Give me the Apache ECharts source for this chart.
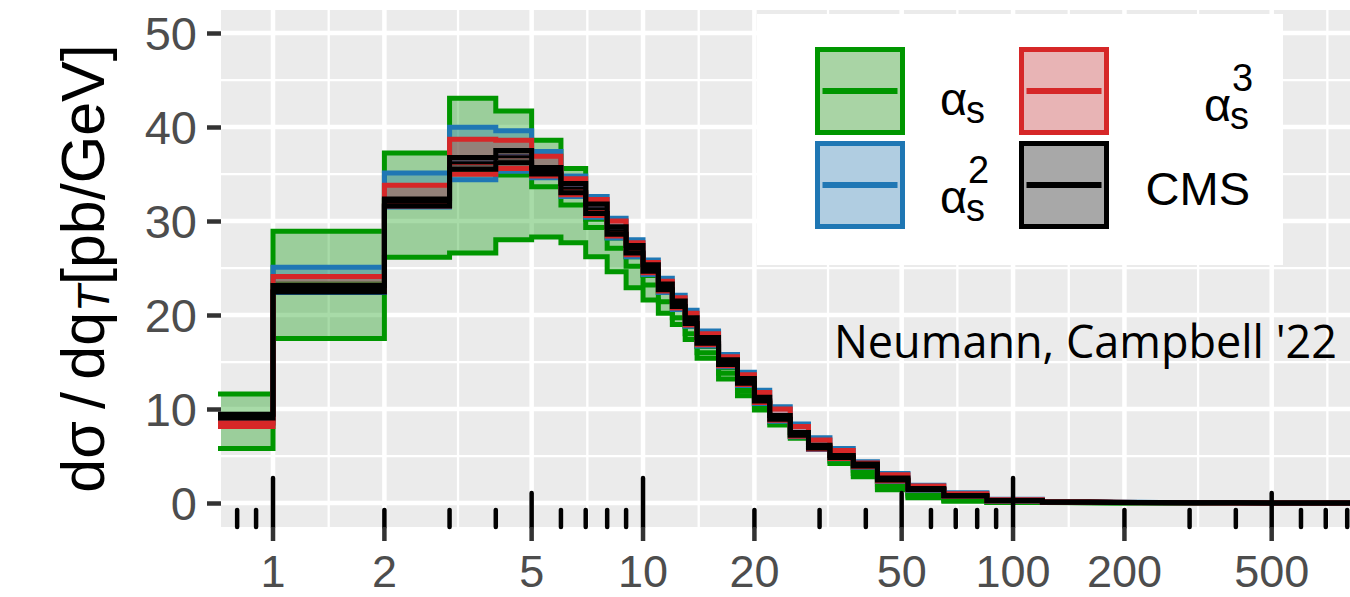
<!DOCTYPE html>
<html><head><meta charset="utf-8">
<script src="https://cdn.jsdelivr.net/npm/echarts@6/dist/echarts.min.js"></script>
<style>html,body{margin:0;padding:0;background:#fff}#c{width:1350px;height:597px}</style>
</head><body><div id="c"></div>
<script>
// ---------------- data ----------------
const binEdges = [0.5,1,2,3,4,5,6,7,8,9,10,11,12,13,14,16,18,20,22,25,28,32,37,43,52,65,85,120,160,190,220,250,300,400,500,1000];

const greenUp  = [11.6,28.9,37.25,43.05,41.7,38.6,35.6,30.2,28.2,26.2,24.2,22.4,20.6,18.8,16.65,14.4,12.4,10.6,8.9,7.3,6.0,4.7,3.5,2.0,1.0,0.45,0.12,0.05,0.03,0.025,0.02,0.015,0.01,0.008,0.005];
const greenMid = [8.9,23.3,32.2,35.1,34.9,33.65,31.7,29.3,27.1,25.2,23.2,21.4,19.7,18.0,16.0,13.8,11.9,10.2,8.6,7.1,5.85,4.45,3.15,1.7,0.75,0.3,0.08,0.03,0.02,0.015,0.012,0.01,0.008,0.005,0.003];
const greenLo  = [5.8,17.5,26.15,26.6,28.0,28.3,27.7,26.2,24.6,22.9,21.6,20.2,19.0,17.4,15.4,13.2,11.4,9.9,8.3,6.9,5.7,4.2,2.8,1.4,0.55,0.2,0.05,0.02,0.015,0.01,0.008,0.006,0.005,0.003,0.002];

const blueUp = [9.0,25.07,35.1,39.97,39.6,37.4,34.8,32.6,30.3,28.0,25.85,23.9,22.1,20.5,18.3,15.8,13.9,12.0,10.25,8.4,6.95,5.8,4.4,3.15,1.9,1.1,0.4,0.15,0.09,0.07,0.05,0.04,0.03,0.015,0.008];
const blueMid = [8.8,22.9,32.1,36.3,37.0,35.45,33.6,31.4,29.1,27.1,25.1,23.1,21.3,19.5,17.4,15.1,13.1,11.15,9.2,7.45,6.05,5.0,4.1,2.6,1.55,0.8,0.26,0.1,0.07,0.05,0.04,0.03,0.02,0.01,0.005];
const blueLo = [8.5,22.4,31.5,34.4,35.3,34.6,32.6,30.4,28.2,26.2,24.3,22.4,20.6,18.8,16.7,14.5,12.5,10.6,8.7,7.05,5.7,4.7,3.8,2.3,1.35,0.7,0.2,0.08,0.06,0.04,0.03,0.025,0.015,0.007,0.004];

const redUp = [8.55,24.1,33.8,38.7,38.6,36.9,34.5,32.3,30.0,27.7,25.6,23.6,21.85,20.2,18.0,15.55,13.65,11.75,10.0,8.15,6.7,5.6,4.25,3.0,1.8,1.0,0.35,0.13,0.08,0.06,0.045,0.035,0.025,0.013,0.007];
const redMid = [8.35,22.7,31.9,36.1,36.8,35.25,33.4,31.2,28.9,26.9,24.9,22.9,21.1,19.3,17.2,14.9,12.9,10.95,9.0,7.25,5.95,4.9,4.0,2.5,1.45,0.75,0.24,0.09,0.065,0.045,0.035,0.028,0.018,0.009,0.0045];
const redLo = [8.15,22.5,31.6,34.97,35.6,34.8,32.8,30.6,28.4,26.4,24.5,22.55,20.75,18.95,16.85,14.6,12.6,10.7,8.8,7.1,5.75,4.75,3.85,2.35,1.4,0.72,0.22,0.085,0.062,0.042,0.032,0.026,0.016,0.0075,0.004];

const cmsUp  = [9.45,23.15,32.35,36.75,37.5,35.7,34.0,31.8,29.4,27.4,25.35,23.3,21.5,19.7,17.6,15.25,13.25,11.25,9.3,7.5,6.15,5.05,4.15,2.65,1.55,0.8,0.27,0.11,0.075,0.055,0.045,0.033,0.022,0.012,0.006];
const cmsMid = [9.25,22.8,32.0,36.2,36.85,35.35,33.5,31.3,29.0,27.0,25.0,23.0,21.2,19.4,17.3,15.0,13.0,11.05,9.1,7.35,6.0,4.95,4.05,2.55,1.5,0.77,0.25,0.1,0.07,0.05,0.04,0.03,0.02,0.01,0.005];
const cmsLo  = [9.05,22.45,31.6,35.5,36.2,35.0,33.0,30.8,28.6,26.6,24.65,22.7,20.9,19.1,17.0,14.75,12.75,10.85,8.9,7.2,5.85,4.85,3.95,2.45,1.45,0.74,0.23,0.09,0.065,0.045,0.035,0.027,0.018,0.008,0.004];

const xTickLabels = [1,2,5,10,20,50,100,200,500];
const yTickLabels = [0,10,20,30,40,50];
const yMinorBreaks = [5,15,25,35,45];

// ---------------- layout / style ----------------
const X_MIN = 0.7235, X_MAX = 814;
const Y_MIN = -2.55, Y_MAX = 52.45;
const FONT = 'Liberation Sans';
const C = {green:'#009600', blue:'#1F77B4', red:'#D62728', black:'#000000'};
const FILL = {green:'rgba(0,150,0,0.34)', blue:'rgba(31,119,180,0.34)', red:'rgba(214,39,40,0.34)', black:'rgba(0,0,0,0.34)'};

// minor x grid: geometric midpoints of neighbouring breaks
const extBreaks = [0.5].concat(xTickLabels, [1000]);
const xMinorBreaks = [];
for (let i = 0; i < extBreaks.length - 1; i++) xMinorBreaks.push(Math.sqrt(extBreaks[i] * extBreaks[i+1]));

// log ticks (annotation_logticks)
const logTicks = [];
[0.1,1,10,100].forEach(d => { for (let k = 1; k <= 9; k++) { const v = +(k*d).toPrecision(6); if (v >= X_MIN && v <= X_MAX) logTicks.push([v, k === 1 ? 2 : (k === 5 ? 1 : 0)]); } });

function stepData(vals){ return binEdges.map((e,i)=>[e, vals[Math.min(i, vals.length-1)]]); }

function bandSeries(up, lo, fill, z){
  return {type:'custom', z, silent:true, clip:true, data:[[binEdges[1], lo[1]]], encode:{x:0,y:1},
    renderItem:(params, api)=>{
      const pts=[];
      for(let i=0;i<up.length;i++){ pts.push(api.coord([binEdges[i], up[i]])); pts.push(api.coord([binEdges[i+1], up[i]])); }
      for(let i=lo.length-1;i>=0;i--){ pts.push(api.coord([binEdges[i+1], lo[i]])); pts.push(api.coord([binEdges[i], lo[i]])); }
      return {type:'polygon', shape:{points:pts}, style:{fill}};
    }};
}
function lineSeries(vals, color, width, z){
  return {type:'line', step:'end', data:stepData(vals), showSymbol:false, symbol:'none', silent:true, clip:true, z,
    lineStyle:{color, width, cap:'butt', join:'miter'}, animation:false};
}

const series = [];
// vertical grid
series.push({type:'custom', z:1, silent:true, clip:true, encode:{x:0,y:1},
  data: xTickLabels.map(v=>[v,1]).concat(xMinorBreaks.map(v=>[v,0])),
  renderItem:(p, api)=>{ const x=api.value(0); const a=api.coord([x,Y_MIN]), b=api.coord([x,Y_MAX]);
    return {type:'line', shape:{x1:a[0],y1:a[1],x2:b[0],y2:b[1]}, style:{stroke:'#fff', lineWidth: api.value(1)?4.5:2.3}}; }});
// horizontal grid
series.push({type:'custom', z:1, silent:true, clip:true, encode:{x:0,y:1},
  data: yTickLabels.map(v=>[X_MIN,v,1]).concat(yMinorBreaks.map(v=>[X_MIN,v,0])),
  renderItem:(p, api)=>{ const y=api.value(1); const a=api.coord([X_MIN,y]), b=api.coord([X_MAX,y]);
    return {type:'line', shape:{x1:a[0],y1:a[1],x2:b[0],y2:b[1]}, style:{stroke:'#fff', lineWidth: api.value(2)?4.5:2.3}}; }});

let z = 2;
[[greenUp,greenMid,greenLo,'green',5],[blueUp,blueMid,blueLo,'blue',2.5],[redUp,redMid,redLo,'red',2.5],[cmsUp,cmsMid,cmsLo,'black',2.5]].forEach(([u,m,l,k,mw])=>{
  series.push(bandSeries(u,l,FILL[k],z++));
  series.push(lineSeries(m,C[k],mw,z++));
  series.push(lineSeries(u,C[k],5,z++));
  series.push(lineSeries(l,C[k],5,z++));
});

// log ticks inside panel
series.push({type:'custom', z:40, silent:true, clip:false, encode:{x:0,y:1},
  data: logTicks,
  renderItem:(p, api)=>{ const x=api.value(0); const a=api.coord([x,Y_MIN]); const len=[17,34,49][api.value(1)];
    return {type:'line', shape:{x1:a[0],y1:a[1],x2:a[0],y2:a[1]-len}, style:{stroke:'#000', lineWidth:4.5, lineCap:'round'}}; }});
// x axis ticks (below panel)
series.push({type:'custom', z:40, silent:true, clip:false, encode:{x:0,y:1},
  data: xTickLabels.map(v=>[v,Y_MIN]),
  renderItem:(p, api)=>{ const x=api.value(0); const a=api.coord([x,Y_MIN]);
    return {type:'line', shape:{x1:a[0],y1:a[1],x2:a[0],y2:a[1]+14}, style:{stroke:'#333333', lineWidth:4.5}}; }});

// legend (graphic)
const lg = [];
lg.push({type:'rect', shape:{x:757,y:14,width:526,height:251}, style:{fill:'#fff'}});
const keys = [['green',817.5,49.5],['blue',817.5,143.5],['red',1021.5,49.5],['black',1021.5,143.5]];
const keyFill = {green:'#A9D4A5', blue:'#B0CDE1', red:'#E8B4B5', black:'#A8A8A8'};
keys.forEach(([k,x,y])=>{
  lg.push({type:'rect', shape:{x,y,width:85,height:83}, style:{fill:keyFill[k], stroke:C[k], lineWidth:5}});
  lg.push({type:'line', shape:{x1:x+5,y1:y+41.5,x2:x+80,y2:y+41.5}, style:{stroke:C[k], lineWidth:6}});
});
function t(text,x,y,size,align,color){ return {type:'text', x, y, style:{text, fill:color||'#000', font:size+'px "'+FONT+'"', lineHeight:size, align:align||'left', verticalAlign:'middle'}}; }
lg.push(t('α',940,98,47)); lg.push(t('s',966,110,38));
lg.push(t('α',940,196,47)); lg.push(t('s',966,208,38)); lg.push(t('2',968,170,38));
lg.push(t('α',1204,104,47)); lg.push(t('s',1230,116,38)); lg.push(t('3',1232,78,38));
lg.push(t('CMS',1250,188,47,'right'));
lg.push({type:'text', x:1337, y:340, style:{text:"Neumann, Campbell '22", fill:'#000', font:'45px "Open Sans"', lineHeight:48, align:'right', verticalAlign:'middle'}});

const chart = echarts.init(document.getElementById('c'), null, {renderer:'svg'});
chart.setOption({
  animation:false,
  backgroundColor:'#fff',
  grid:{left:221, right:0, top:10, bottom:70, show:true, backgroundColor:'#EBEBEB', borderWidth:0},
  xAxis:{type:'log', min:X_MIN, max:X_MAX, axisLine:{show:false}, axisTick:{show:false}, axisLabel:{show:false}, splitLine:{show:false}},
  yAxis:{type:'value', min:Y_MIN, max:Y_MAX, axisLine:{show:false}, splitLine:{show:false},
    axisTick:{show:true, customValues:yTickLabels, length:14, lineStyle:{color:'#333333', width:4.5}},
    axisLabel:{customValues:yTickLabels, margin:24, fontSize:47, color:'#4D4D4D', fontFamily:FONT},
    name:'{a|dσ\u2009/\u2009dq}{b|T}{a|[pb/GeV]}', nameLocation:'middle', nameRotate:90, nameGap:106,
    nameTextStyle:{color:'#000', rich:{a:{fontSize:61, fontFamily:FONT, color:'#000', lineHeight:64, verticalAlign:'middle'},
      b:{fontSize:44, fontFamily:FONT, fontStyle:'italic', color:'#000', lineHeight:44, verticalAlign:'bottom'}}}},
  series
});
// x tick labels placed through the axis scale
xTickLabels.forEach(v=>{
  const p = chart.convertToPixel({xAxisIndex:0, yAxisIndex:0}, [v, Y_MIN]);
  lg.push(t(String(v), p[0], p[1]+44, 45, 'center', '#4D4D4D'));
});
chart.setOption({graphic: lg.map(e=>Object.assign({z:100}, e))});
</script></body></html>
